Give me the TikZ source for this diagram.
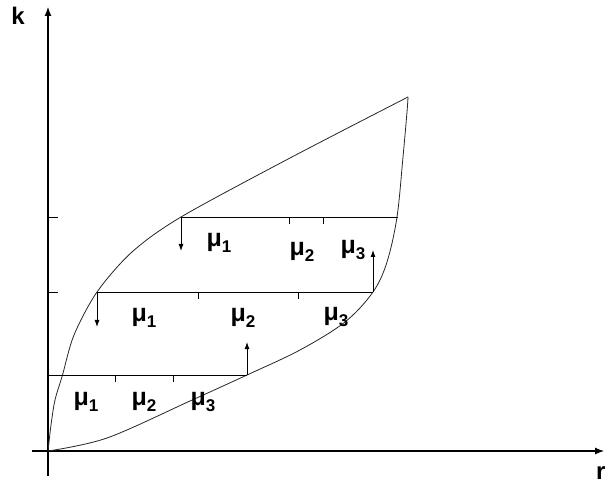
\documentclass[tikz,border=0pt]{standalone}
\usepackage{fontspec}
\setmainfont{Liberation Sans}
\usetikzlibrary{arrows.meta}
\newcommand{\mulab}[1]{\bfseries μ\raisebox{-0.22em}{\fontsize{17}{17}\selectfont #1}}
\begin{document}
\begin{tikzpicture}[x=1pt,y=-1pt,
  axis/.style={line width=1.1pt, -{Latex[length=9pt,width=7pt]}},
  curve/.style={line width=0.8pt, black!85},
  level/.style={line width=0.9pt},
  tick/.style={line width=0.9pt},
  darr/.style={line width=0.9pt, -{Latex[length=7pt,width=5pt]}},
  lab/.style={font=\fontsize{25}{25}\selectfont, inner sep=0pt},
  axlab/.style={font=\fontsize{24}{24}\selectfont\bfseries, inner sep=0pt}]
\useasboundingbox (0,0) rectangle (605,486);
% axes
\coordinate (O) at (48,451);
\coordinate (ybot) at (48,476);
\coordinate (ytop) at (48,7);
\coordinate (xleft) at (32,451);
\coordinate (xright) at (604,451);
\draw[axis] (ybot) -- (ytop);
\draw[axis] (xleft) -- (xright);
\node[axlab] (k) at (18,16) {k};
\node[axlab, anchor=west] (r) at (596,473) {r};
% level coordinates
\coordinate (T) at (408,97);
\coordinate (A1) at (181,217); \coordinate (B1) at (398,217);
\coordinate (A2) at (97,292);  \coordinate (B2) at (373,292);
\coordinate (A3) at (48,375);  \coordinate (B3) at (247,375);
% curves
\draw[curve] plot[smooth, tension=0.5] coordinates {(48,451) (51,425) (55,400) (62.5,375) (74,335) (97,292) (132,252) (181,217) (290,158) (408,97)};
\draw[curve] plot[smooth, tension=0.55] coordinates {(48,451) (107,438) (190,401) (247,375) (300,350) (345,322) (373,292) (387,262) (397,217) (403,157) (407,112) (408,97)};
% y-axis ticks
\coordinate (t1) at (58,217); \coordinate (t1a) at (48,217);
\coordinate (t2) at (58,292); \coordinate (t2a) at (48,292);
\draw[tick] (t1a) -- (t1);
\draw[tick] (t2a) -- (t2);
% level lines
\draw[level] (A1) -- (B1);
\draw[level] (A2) -- (B2);
\draw[level] (A3) -- (B3);
% small ticks
\foreach \x/\y in {289/217, 323/217, 198/292, 298/292, 115/375, 173/375}
  \draw[tick] (\x,\y) -- (\x,\y+7);
% arrows
\coordinate (d1) at (181,251);
\coordinate (d2) at (97,327);
\coordinate (u2) at (373,250);
\coordinate (u3) at (247,342);
\draw[darr] (A1) -- (d1);
\draw[darr] (A2) -- (d2);
\draw[darr] (B2) -- (u2);
\draw[darr] (B3) -- (u3);
% labels
\node[lab] (m11) at (219,243) {\mulab{1}};
\node[lab] (m12) at (302,252) {\mulab{2}};
\node[lab] (m13) at (353,250) {\mulab{3}};
\node[lab] (m21) at (144,318) {\mulab{1}};
\node[lab] (m22) at (243,318) {\mulab{2}};
\node[lab] (m23) at (336,317) {\mulab{3}};
\node[lab] (m31) at (86,402) {\mulab{1}};
\node[lab] (m32) at (144,402) {\mulab{2}};
\node[lab] (m33) at (203,402) {\mulab{3}};
\end{tikzpicture}
\end{document}
